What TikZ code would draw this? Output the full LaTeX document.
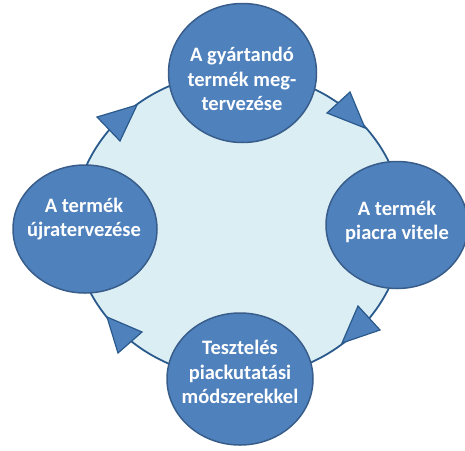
\documentclass[tikz,border=0pt]{standalone}
\usepackage{fontspec}
\setmainfont{Carlito}
\usetikzlibrary{shapes.geometric}
\definecolor{bubblefill}{HTML}{4F81BD}
\definecolor{bubbleline}{HTML}{385D8A}
\definecolor{ringfill}{HTML}{DBEEF4}
\definecolor{ringline}{HTML}{2A5A8C}
\tikzset{
  bubble/.style={ellipse, draw=bubbleline, fill=bubblefill, line width=1.5pt, inner sep=0pt},
  ringshape/.style={ellipse, draw=ringline, fill=ringfill, line width=1.8pt, inner sep=0pt, minimum width=330pt, minimum height=306pt},
  lbl/.style={text=white, align=center, font=\bfseries\fontsize{20.5}{24.5}\selectfont, inner sep=0pt},
  headtri/.style={draw=ringline, fill=bubblefill, line width=1.2pt, line join=miter}
}
\begin{document}
\begin{tikzpicture}[x=1pt,y=-1pt]
\useasboundingbox (0,0) rectangle (465,450);
\begin{scope}
\clip (0,0) rectangle (465,450);
\node[ringshape] (ring) at (238.5,225) {};
% arrowheads on the ring
\draw[headtri] (97,117) -- (120,141) -- (137,105) -- cycle;
\draw[headtri] (327,113) -- (350,92) -- (365,128) -- cycle;
\draw[headtri] (358,306) -- (380,330) -- (342,343) -- cycle;
\draw[headtri] (142,332) -- (118,353) -- (107,317) -- cycle;
% bubbles
\node[bubble, minimum width=148pt, minimum height=139pt] (top) at (242.5,73) {};
\node[bubble, minimum width=142pt, minimum height=127pt] (right) at (397,225) {};
\node[bubble, minimum width=144pt, minimum height=128pt] (left) at (85,229) {};
\node[bubble, minimum width=146pt, minimum height=132pt] (bottom) at (240,379) {};
\end{scope}
% labels
\node[lbl] (toptext) at (242,79) {A gyártandó\\termék meg-\\tervezése};
\node[lbl] (righttext) at (397,222) {A termék\\piacra vitele};
\node[lbl] (lefttext) at (84,219) {A termék\\újratervezése};
\node[lbl] (bottomtext) at (240,372) {Tesztelés\\piackutatási\\módszerekkel};
\end{tikzpicture}
\end{document}
